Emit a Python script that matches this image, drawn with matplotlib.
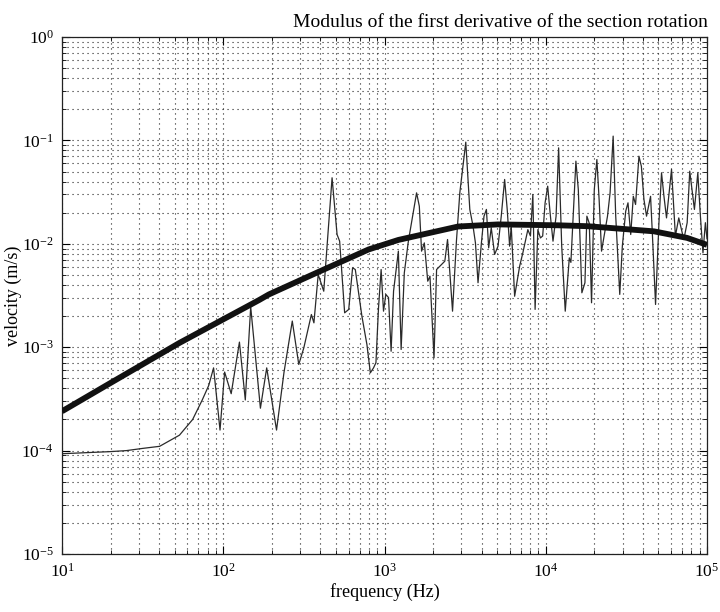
import matplotlib
matplotlib.use("Agg")
import matplotlib.pyplot as plt
from matplotlib.ticker import LogLocator, NullFormatter

plt.rcParams['font.family'] = ['Liberation Serif', 'DejaVu Serif']
plt.rcParams['mathtext.fontset'] = 'custom'
plt.rcParams['mathtext.rm'] = 'Liberation Serif'
plt.rcParams['mathtext.it'] = 'Liberation Serif:italic'
plt.rcParams['mathtext.bf'] = 'Liberation Serif:bold'

# ---- data ----
title = "Modulus of the first derivative of the section rotation"
x_label = "frequency (Hz)"
y_label = "velocity (m/s)"

smooth_freq = [10, 19.8, 53.5, 167, 192, 392, 796, 1219, 2864, 5058, 11860,
               18160, 46880, 75340, 100000]
smooth_vel = [2.40e-4, 4.47e-4, 1.10e-3, 2.86e-3, 3.24e-3, 5.37e-3, 8.81e-3,
              1.09e-2, 1.47e-2, 1.54e-2, 1.51e-2, 1.48e-2, 1.32e-2, 1.14e-2,
              9.77e-3]

noisy_freq = [
    10, 19.8, 25.1, 31.6, 40.3, 53.5, 64.6, 74.1, 81.3, 87.1, 95.5, 102, 112,
    126, 137, 148, 170, 186, 214,
    238, 268, 294, 316, 352, 365, 388, 420, 473, 508, 527, 566, 600, 634, 659,
    724, 778, 817, 855, 885, 918, 953, 986, 1019, 1059, 1099, 1138, 1219,
    1268, 1327, 1406, 1581, 1644, 1698, 1766, 1854, 1914, 2028, 2104, 2259,
    2366, 2460, 2642, 2793, 2931, 3192, 3381, 3540, 3664, 3802, 3990, 4140,
    4285, 4426, 4592, 4819, 5058,
    5297, 5559, 5768, 5970, 6109, 6412, 6887, 7211, 7745, 8035, 8318, 8590,
    8933, 9268, 9572, 9908, 10280, 10690, 11090, 11590, 12020, 12560, 13210,
    14000, 14320, 15380, 15920, 16750, 17500, 17990, 18620, 19230, 20000,
    20750, 21430, 22180, 23010, 24150, 25060, 26180, 27160, 28770, 29850,
    31330, 32360, 33650, 34910, 36060, 37840, 39170, 40640, 42170, 44670,
    45710, 47970, 50350, 52240, 54080, 56100, 60260, 63680, 66830, 71780,
    75340, 78160, 83560, 87700, 91010, 94410, 97720, 100000]
noisy_vel = [
    9.33e-5, 9.77e-5, 1.00e-4, 1.05e-4, 1.10e-4, 1.41e-4, 2.00e-4, 3.09e-4,
    4.27e-4, 6.31e-4, 1.58e-4, 5.75e-4, 3.55e-4, 1.12e-3, 3.09e-4, 2.45e-3,
    2.57e-4, 6.31e-4, 1.58e-4,
    5.69e-4, 1.79e-3, 6.81e-4, 9.86e-4, 2.07e-3, 1.72e-3, 5.05e-3, 3.48e-3,
    4.35e-2, 1.23e-2, 1.06e-2, 2.15e-3, 2.32e-3, 5.86e-3, 5.64e-3, 2.00e-3,
    1.06e-3, 5.65e-4, 6.31e-4, 7.08e-4, 2.40e-3, 5.64e-3, 2.23e-3, 3.24e-3,
    3.02e-3, 9.14e-4, 3.48e-3, 8.49e-3, 9.51e-4, 5.24e-3, 1.06e-2, 3.11e-2,
    2.31e-2, 8.49e-3, 1.02e-2, 4.35e-3, 4.86e-3, 7.89e-4, 5.64e-3, 6.31e-3,
    6.79e-3, 1.10e-2, 2.23e-3, 1.06e-2, 3.11e-2, 9.62e-2, 2.15e-2, 1.48e-2,
    1.02e-2, 4.20e-3, 1.02e-2, 1.85e-2, 2.15e-2, 9.14e-3, 1.43e-2, 7.89e-3,
    9.48e-3,
    1.85e-2, 4.19e-2, 2.15e-2, 9.48e-3, 1.48e-2, 3.11e-3, 6.07e-3, 8.18e-3,
    1.37e-2, 1.19e-2, 3.00e-2, 2.32e-3, 1.37e-2, 1.14e-2, 1.19e-2, 2.49e-2,
    3.61e-2, 1.85e-2, 1.06e-2, 1.85e-2, 8.47e-2, 9.48e-3, 2.23e-3, 7.31e-3,
    6.61e-3, 6.30e-2, 3.35e-2, 3.36e-3, 4.20e-3, 1.85e-2, 1.58e-2, 2.69e-3,
    3.35e-2, 6.53e-2, 2.68e-2, 8.49e-3, 1.19e-2, 1.85e-2, 3.11e-2, 0.110,
    1.85e-2, 3.24e-3, 9.48e-3, 2.07e-2, 2.49e-2, 1.23e-2, 2.88e-2, 2.40e-2,
    7.03e-2, 5.62e-2, 2.68e-2, 1.85e-2, 2.88e-2, 1.37e-2, 2.59e-3, 1.60e-2,
    4.86e-2, 2.88e-2, 1.78e-2, 5.24e-2, 1.19e-2, 1.78e-2, 1.10e-2, 1.60e-2,
    5.04e-2, 2.15e-2, 4.86e-2, 1.85e-2, 8.18e-3, 1.60e-2, 1.12e-2]

x_limits = (10, 1e5)
y_limits = (1e-5, 1)

# ---- plot ----
fig = plt.figure(figsize=(7.2, 6.12), dpi=100)
ax = fig.add_axes([62 / 720, 1 - 554 / 612, (707 - 62) / 720, (554 - 37) / 612])

ax.loglog(noisy_freq, noisy_vel, color='#2a2a2a', lw=0.9, zorder=3)
ax.loglog(smooth_freq, smooth_vel, color='#111111', lw=4.2,
          solid_capstyle='butt', zorder=4)

ax.set_xlim(*x_limits)
ax.set_ylim(*y_limits)

ax.xaxis.set_major_locator(LogLocator(base=10, numticks=10))
ax.yaxis.set_major_locator(LogLocator(base=10, numticks=10))
ax.xaxis.set_minor_locator(LogLocator(base=10, subs=range(2, 10), numticks=20))
ax.yaxis.set_minor_locator(LogLocator(base=10, subs=range(2, 10), numticks=20))
ax.xaxis.set_minor_formatter(NullFormatter())
ax.yaxis.set_minor_formatter(NullFormatter())

ax.grid(True, which='both', linestyle=(0, (1, 3.5)), color='#222222',
        linewidth=0.8)
ax.set_axisbelow(True)

ax.tick_params(which='both', direction='in', top=True, right=True,
               labelsize=12.5, pad=6)
ax.tick_params(which='major', length=6, width=0.8)
ax.tick_params(which='minor', length=3, width=0.6)
for sp in ax.spines.values():
    sp.set_linewidth(0.9)
    sp.set_color('#222222')

ax.set_xlabel(x_label, fontsize=13, labelpad=2)
ax.set_ylabel(y_label, fontsize=13)
ax.yaxis.set_label_coords(-0.062, 0.5)
fig.text(708 / 720, 1 - 27 / 612, title, ha='right', va='baseline',
         fontsize=14)

fig.savefig("out.png", dpi=100)
